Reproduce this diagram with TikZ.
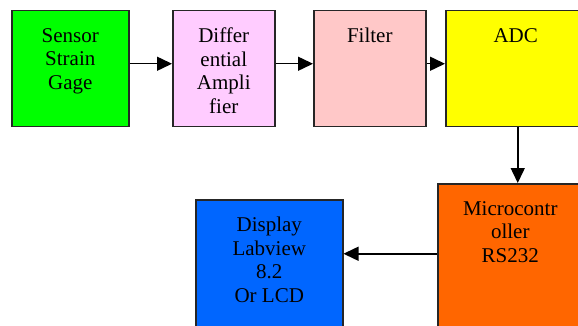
\documentclass[tikz,border=0pt]{standalone}
\usepackage{fontspec}
\setmainfont{Liberation Serif}
\newfontfamily\blkfont{Liberation Serif}
\usetikzlibrary{positioning,arrows.meta,calc}

\definecolor{sensorcol}{RGB}{0,255,0}
\definecolor{diffcol}{RGB}{255,204,255}
\definecolor{filtercol}{RGB}{255,200,200}
\definecolor{adccol}{RGB}{255,255,0}
\definecolor{microcol}{RGB}{255,102,0}
\definecolor{dispcol}{RGB}{0,102,255}

\begin{document}
\begin{tikzpicture}[x=1pt,y=-1pt,
  blk/.style={draw=black!85,line width=1.5pt,anchor=north west,inner sep=0pt},
  lbl/.style={anchor=north,align=center,inner sep=0pt,yshift=-18pt,font=\blkfont\fontsize{21}{23.5}\selectfont},
  arr/.style={line width=1.5pt,-{Triangle[length=15pt,width=14pt]}}]
\useasboundingbox (0,0) rectangle (578,326);
\clip (0,0) rectangle (578,326);
% top row
\node[blk,fill=sensorcol,minimum width=117pt,minimum height=116pt,label={[lbl]north:Sensor\\Strain\\Gage}] (sensor) at (11,10) {};
\node[blk,fill=diffcol,minimum width=102pt,minimum height=116pt,label={[lbl]north:Differ\\ential\\Ampli\\fier}] (diff) at (172,10) {};
\node[blk,fill=filtercol,minimum width=112pt,minimum height=116pt,label={[lbl]north:Filter}] (filter) at (313,10) {};
\node[blk,fill=adccol,minimum width=140pt,minimum height=116pt,label={[lbl]north:ADC}] (adc) at (445,10) {};
% bottom row
\node[blk,fill=microcol,minimum width=145pt,minimum height=150pt,label={[lbl]north:Microcontr\\oller\\RS232}] (micro) at (437,183) {};
\node[blk,fill=dispcol,minimum width=147pt,minimum height=140pt,label={[lbl]north:Display\\Labview\\8.2\\Or LCD}] (disp) at (195,199) {};

\foreach \a/\b in {sensor/diff,diff/filter,filter/adc}
{
\draw[arr] ([yshift=5pt]\a.east) -- ([yshift=5pt]\b.west);
}
\draw[arr] ([xshift=2pt]adc.south) -- ([xshift=2pt]adc.south |- micro.north);
\draw[arr] ([yshift=5pt]micro.west) -- ([yshift=5pt]micro.west -| disp.east);
\end{tikzpicture}
\end{document}
